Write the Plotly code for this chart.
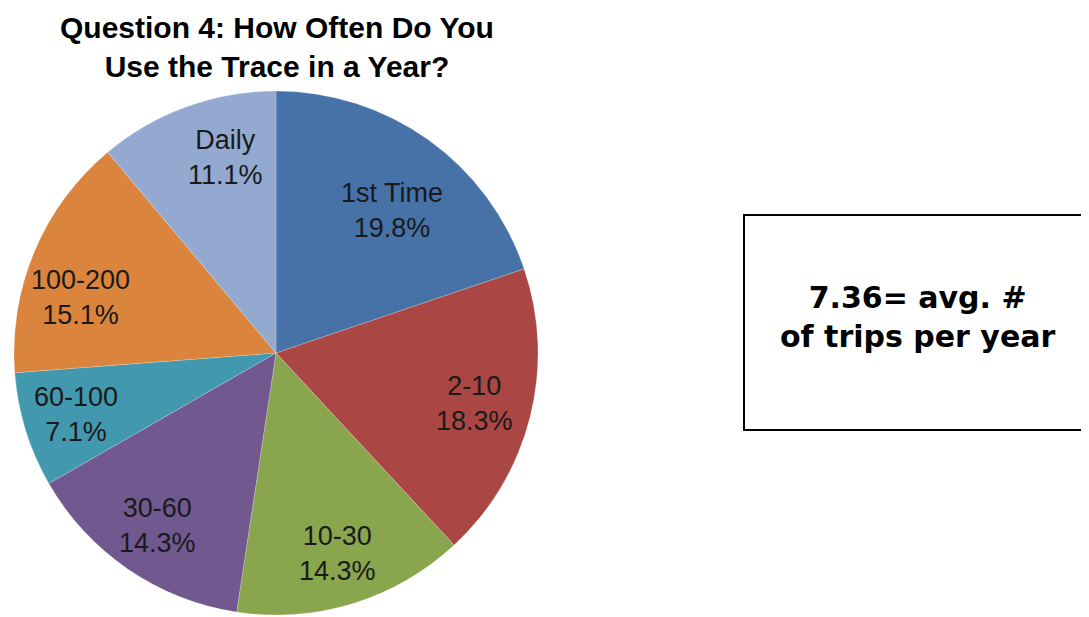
import math
import plotly.graph_objects as go

categories = ["1st Time", "2-10", "10-30", "30-60", "60-100", "100-200", "Daily"]
shares = [19.8, 18.3, 14.3, 14.3, 7.1, 15.1, 11.1]
colors = ["#4672A8", "#AA4643", "#89A54E", "#71588F", "#4198AF", "#DB843D", "#93A9CF"]

title_text = "Question 4: How Often Do You<br>Use the Trace in a Year?"
note_text = "7.36= avg. #<br>of trips per year"

W, H = 1089, 617
# pie geometry in figure pixels (page body adds an 8px offset)
cx, cy, R = 268, 345, 262
# label placement: fraction of radius and angle nudge (deg) per slice
label_r = [0.70, 0.78, 0.80, 0.80, 0.80, 0.775, 0.77]
label_da = [3.5, 0, 0, 0, 0, -7, 5.5]


def px_x(x):
    return x / W


def px_y(y):
    return 1 - y / H


fig = go.Figure()
fig.add_trace(go.Pie(
    labels=categories,
    values=shares,
    sort=False,
    direction="clockwise",
    rotation=0,
    marker=dict(colors=colors, line=dict(color="rgba(255,255,255,0.4)", width=0.5)),
    textinfo="none",
    hoverinfo="label+percent",
    domain=dict(x=[px_x(cx - R), px_x(cx + R)], y=[px_y(cy + R), px_y(cy - R)]),
    showlegend=False,
))

# slice labels, placed along each slice's mid angle
total = sum(shares)
start = 0.0
for name, val, rf, da in zip(categories, shares, label_r, label_da):
    mid = (start + val / 2) / total * 2 * math.pi + math.radians(da)
    start += val
    lx = cx + rf * R * math.sin(mid)
    ly = cy - rf * R * math.cos(mid)
    fig.add_annotation(
        text=f"{name}<br>{val:.1f}%", x=px_x(lx), y=px_y(ly),
        xref="paper", yref="paper", showarrow=False,
        font=dict(family="Liberation Sans, Arial", size=27, color="#1a1a1a"),
        xanchor="center", yanchor="middle",
    )

fig.add_annotation(
    text="<b>" + title_text + "</b>", x=px_x(269), y=px_y(39), xref="paper", yref="paper",
    showarrow=False, font=dict(family="Liberation Sans, Arial", size=30, color="#000000"),
    xanchor="center", yanchor="middle",
)

fig.add_shape(type="rect", xref="paper", yref="paper",
              x0=px_x(736), x1=px_x(1095), y0=px_y(422), y1=px_y(207),
              line=dict(color="#000000", width=2), fillcolor="white")
fig.add_annotation(
    text="<b>" + note_text + "</b>", x=px_x(910), y=px_y(309), xref="paper", yref="paper",
    showarrow=False, font=dict(family="DejaVu Sans, Verdana", size=30, color="#000000"),
    xanchor="center", yanchor="middle",
)

fig.update_layout(
    width=W, height=H,
    margin=dict(l=0, r=0, t=0, b=0),
    paper_bgcolor="white", plot_bgcolor="white",
)

fig.write_html("out.html")
